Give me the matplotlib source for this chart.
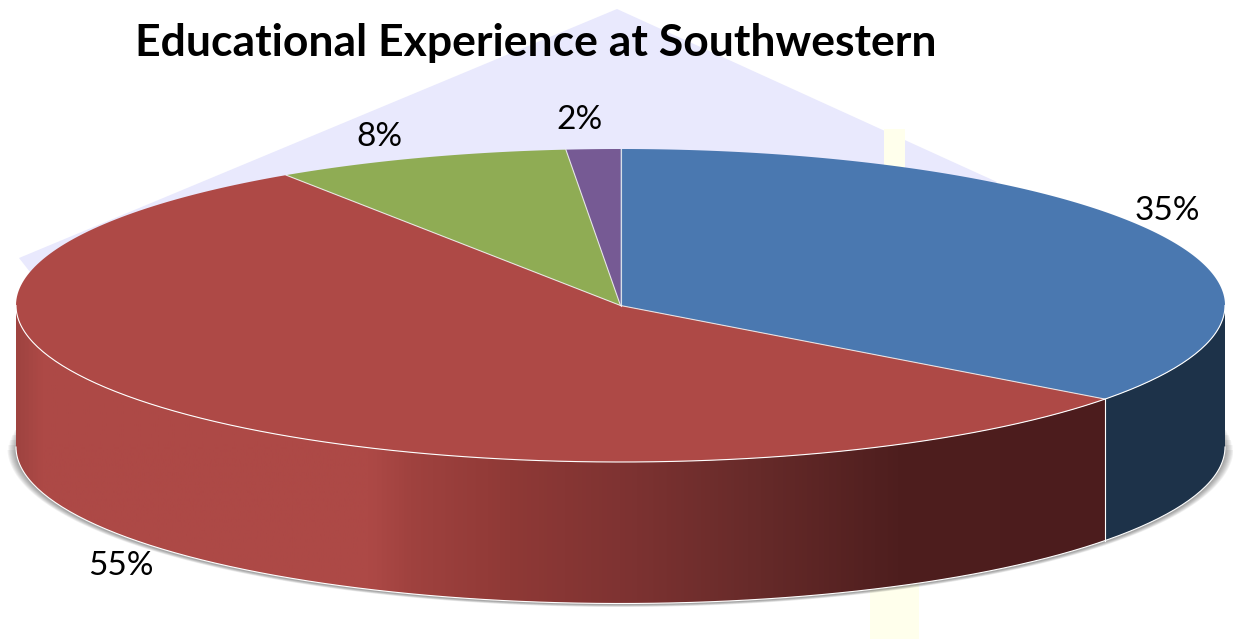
import numpy as np
import matplotlib
matplotlib.use("Agg")
import matplotlib.pyplot as plt
from matplotlib.patches import Polygon, Rectangle
from matplotlib.colors import LinearSegmentedColormap

TITLE = "Educational Experience at Southwestern"
categories = ["A", "B", "C", "D"]
shares = [35.2, 55.47, 7.89, 1.44]
labels = ["35%", "55%", "8%", "2%"]
top_colors = ["#4A78B0", "#AE4946", "#8FAC54", "#765A94"]
label_xy = [(1167, 211), (121, 566), (379, 137), (580, 120)]

cx, cy, rx, ry, depth = 620.5, 305.5, 604.5, 156.5, 141.5

fig = plt.figure(figsize=(12.33, 6.39), dpi=100)
ax = fig.add_axes([0, 0, 1, 1])
ax.set_xlim(0, 1233)
ax.set_ylim(639, 0)
ax.axis("off")

def arc(a0, a1, dy=0.0, n=200, grow_x=0.0, grow_y=0.0):
    t = np.radians(np.linspace(a0, a1, n))
    return np.column_stack([cx + (rx + grow_x) * np.sin(t),
                            cy + dy - (ry + grow_y) * np.cos(t)])

# background decorations
ax.add_patch(Polygon([(617, 9), (997, 182), (900, 300), (40, 300), (30, 272), (19, 258)],
                     closed=True, fc="#E9E9FD", ec="none", zorder=1))
ax.add_patch(Rectangle((884, 129), 21, 60, fc="#FFFFEC", ec="none", zorder=1.5))
ax.add_patch(Rectangle((870, 560), 49, 79, fc="#FFFFEC", ec="none", zorder=1.5))

# soft shadow under the side wall
for k in range(1, 10):
    clip_y = 405 + k * 5
    shell = arc(0, 360, dy=depth + 1, n=400, grow_x=k * 0.95, grow_y=k * 0.28)
    p = Polygon(shell, closed=True, fc="#303030", ec="none", alpha=0.06, zorder=2)
    ax.add_patch(p)
    p.set_clip_path(Rectangle((0, clip_y), 1233, 639 - clip_y, transform=ax.transData))

# slices
bounds = np.concatenate([[0], np.cumsum(shares)]) * 3.6

# side walls
a_blue_end = bounds[1]
side_blue = np.vstack([arc(90, a_blue_end), arc(a_blue_end, 90, dy=depth)])
ax.add_patch(Polygon(side_blue, closed=True, fc="#1D3249", ec="none", zorder=3))

side_red = np.vstack([arc(a_blue_end, 270), arc(270, a_blue_end, dy=depth)])
stops_x = [16, 40, 370, 410, 510, 620, 750, 900, 1105]
stops_c = ["#9F4340", "#AD4946", "#AD4946", "#A0423F", "#8F3936",
           "#7F3332", "#682B2A", "#4E1E1E", "#4C1C1D"]
span = (stops_x[-1] - stops_x[0])
cmap = LinearSegmentedColormap.from_list(
    "side", [((x - stops_x[0]) / span, c) for x, c in zip(stops_x, stops_c)])
grad = np.linspace(0, 1, 512).reshape(1, -1)
im = ax.imshow(grad, cmap=cmap, aspect="auto", zorder=3,
               extent=(stops_x[0], stops_x[-1], 640, 250))
clip = Polygon(side_red, closed=True, transform=ax.transData)
im.set_clip_path(clip)
ax.set_xlim(0, 1233)
ax.set_ylim(639, 0)

# edges of the side wall
front_bottom = arc(90, 270, dy=depth)
ax.plot(front_bottom[:, 0], front_bottom[:, 1], color="white", lw=0.8, zorder=4)
split_x, split_y = arc(a_blue_end, a_blue_end, n=1)[0]
ax.plot([split_x, split_x], [split_y, split_y + depth], color="white", lw=0.8, zorder=4)

# top wedges
for a0, a1, col in zip(bounds[:-1], bounds[1:], top_colors):
    ax.add_patch(Polygon(np.vstack([[cx, cy], arc(a0, a1)]), closed=True,
                         fc=col, ec="none", zorder=5))
for a in bounds[:-1]:
    ex, ey = arc(a, a, n=1)[0]
    ax.plot([cx, ex], [cy, ey], color="#F2F2F2", lw=0.8, alpha=0.85, zorder=6)
front_top = arc(90, 270)
ax.plot(front_top[:, 0], front_top[:, 1], color="white", lw=0.8, zorder=6)

# text
ax.text(135, 56, TITLE, family="Lato", weight="bold", fontsize=32,
        color="black", ha="left", va="baseline", zorder=7)
for (x, y), s in zip(label_xy, labels):
    ax.text(x, y, s, family="Lato", fontsize=24, color="black",
            ha="center", va="center", zorder=7)

fig.savefig("out.png", dpi=100)
